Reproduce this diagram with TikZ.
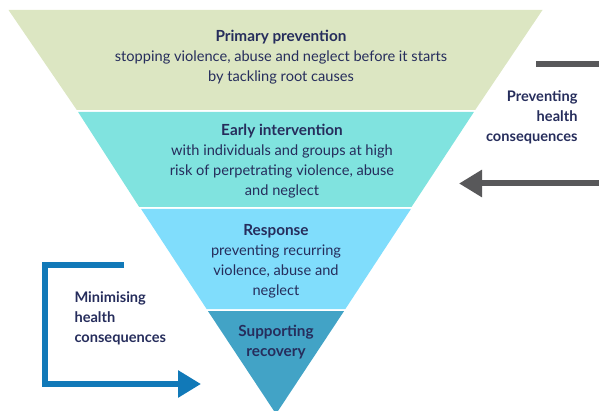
\documentclass[tikz,border=0pt]{standalone}
\usepackage{fontspec}
\setmainfont{Lato}
\usetikzlibrary{arrows.meta}
\definecolor{bandA}{HTML}{DCE6C2}
\definecolor{bandB}{HTML}{80E3DF}
\definecolor{bandC}{HTML}{80DDFC}
\definecolor{bandD}{HTML}{42A3C6}
\definecolor{navy}{HTML}{262D5C}
\definecolor{arrgray}{HTML}{58585A}
\definecolor{arrblue}{HTML}{1179B8}
\newcommand{\bandtitle}[1]{{\bfseries\fontsize{15.3}{20}\selectfont #1}}
\begin{document}
\begin{tikzpicture}[x=1pt,y=-1pt,
  bandtext/.style={align=center,text=navy,font=\fontsize{14.6}{20}\selectfont},
  sidetext/.style={text=navy,font=\bfseries\fontsize{14.6}{20}\selectfont},
  grayarrow/.style={draw=arrgray,line width=6pt},
  bluearrow/.style={draw=arrblue,line width=6pt}]
\useasboundingbox (0,0) rectangle (599,411);
\begin{scope}
\clip (0,0) rectangle (599,411);
\fill[bandA] (8.5,10) -- (542.5,10) -- (475.2,110) -- (76.8,110) -- cycle;
\fill[bandB] (78.1,112) -- (473.9,112) -- (411.5,207) -- (139.2,207) -- cycle;
\fill[bandC] (141.1,209) -- (410.9,209) -- (345.4,309) -- (206.6,309) -- cycle;
\fill[bandD] (207.9,311) -- (344.1,311) -- (276,414) -- cycle;
\end{scope}
\node[bandtext] (primary) at (281,57) {\bandtitle{Primary prevention}\\stopping violence, abuse and neglect before it starts\\by tackling root causes};
\node[bandtext] (early) at (282,161) {\bandtitle{Early intervention}\\with individuals and groups at high\\risk of perpetrating violence, abuse\\and neglect};
\node[bandtext] (response) at (276,261) {\bandtitle{Response}\\preventing recurring\\violence, abuse and\\neglect};
\node[bandtext] (support) at (276,342) {\bandtitle{Supporting}\\\bandtitle{recovery}};
\node[sidetext,align=right,anchor=east] (prevlabel) at (581,117) {Preventing\\health\\consequences};
\coordinate (gtopA) at (536,64);
\coordinate (gtopB) at (599,64);
\draw[grayarrow] (gtopA) -- (gtopB);
\coordinate (gbotA) at (599,183.5);
\coordinate (gbotB) at (459,183.5);
\draw[grayarrow,-{Triangle[length=23pt,width=26pt]}] (gbotA) -- (gbotB);
\node[sidetext,align=left,anchor=west] (minlabel) at (71,318) {Minimising\\health\\consequences};
\coordinate (bA) at (124,265);
\coordinate (bB) at (45,265);
\coordinate (bC) at (45,384);
\coordinate (bD) at (201,384);
\draw[bluearrow,-{Triangle[length=23pt,width=26pt]}] (bA) -- (bB) -- (bC) -- (bD);
\end{tikzpicture}
\end{document}
